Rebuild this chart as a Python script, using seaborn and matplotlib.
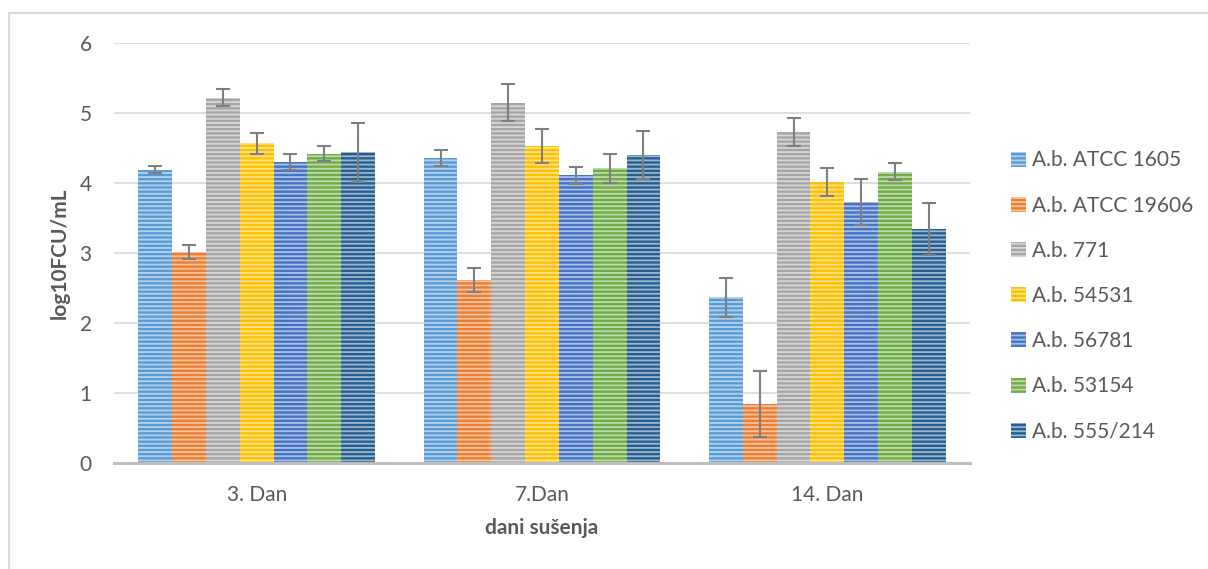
import numpy as np
import pandas as pd
import matplotlib
matplotlib.use("Agg")
import matplotlib.pyplot as plt
import seaborn as sns
from matplotlib.patches import Rectangle

days = ["3. Dan", "7.Dan", "14. Dan"]
strains = ["A.b. ATCC 1605", "A.b. ATCC 19606", "A.b. 771", "A.b. 54531",
           "A.b. 56781", "A.b. 53154", "A.b. 555/214"]

mean_1605 = [4.19, 4.36, 2.37]
mean_19606 = [3.02, 2.62, 0.84]
mean_771 = [5.22, 5.15, 4.73]
mean_54531 = [4.57, 4.53, 4.02]
mean_56781 = [4.30, 4.11, 3.73]
mean_53154 = [4.42, 4.21, 4.16]
mean_555 = [4.44, 4.40, 3.34]

sd_1605 = [0.05, 0.11, 0.28]
sd_19606 = [0.10, 0.17, 0.47]
sd_771 = [0.12, 0.27, 0.20]
sd_54531 = [0.15, 0.24, 0.20]
sd_56781 = [0.12, 0.12, 0.33]
sd_53154 = [0.11, 0.21, 0.12]
sd_555 = [0.42, 0.35, 0.37]

colors = ["#5B9BD5", "#ED7D31", "#A5A5A5", "#FFC000", "#4472C4", "#70AD47", "#255E91"]

means = [mean_1605, mean_19606, mean_771, mean_54531, mean_56781, mean_53154, mean_555]
sds = [sd_1605, sd_19606, sd_771, sd_54531, sd_56781, sd_53154, sd_555]

rows = []
for s, m in zip(strains, means):
    for d, v in zip(days, m):
        rows.append({"day": d, "strain": s, "value": v})
df = pd.DataFrame(rows)

sns.set_theme(style="white")
plt.rcParams["font.family"] = ["Lato", "DejaVu Sans"]
plt.rcParams["hatch.linewidth"] = 1.3
plt.rcParams["hatch.color"] = (1, 1, 1, 0.55)

W, H = 1208, 569
TXT = "#595959"
FS = 15
fig = plt.figure(figsize=(W / 100, H / 100), dpi=100)
ax = fig.add_axes([114 / W, 1 - 463 / H, (970 - 114) / W, (463 - 43) / H])

sns.barplot(data=df, x="day", y="value", hue="strain", order=days, hue_order=strains,
            palette=colors, width=0.83, errorbar=None, ax=ax, saturation=1,
            edgecolor=(1, 1, 1, 0.55), linewidth=0, legend=True)

for cont, sd in zip(ax.containers, sds):
    for bar, e in zip(cont.patches, sd):
        bar.set_hatch("----")
        x = bar.get_x() + bar.get_width() / 2
        ax.errorbar(x, bar.get_height(), yerr=e, color="#7f7f7f", lw=1.5,
                    capsize=5, capthick=1.5, zorder=5)

ax.set_ylim(0, 6)
ax.set_xlim(-0.5, 2.5)
ax.set_yticks(range(7))
ax.yaxis.grid(True, color="#d9d9d9", lw=1.2)
ax.set_axisbelow(True)
for sp in ["top", "right", "left"]:
    ax.spines[sp].set_visible(False)
ax.spines["bottom"].set_color("#bfbfbf")
ax.spines["bottom"].set_linewidth(2.2)
ax.tick_params(axis="both", length=0, labelsize=FS, colors=TXT)
ax.tick_params(axis="y", pad=16)
ax.tick_params(axis="x", pad=15.5)
ax.set_xlabel("dani sušenja", fontsize=FS, fontweight="bold", color=TXT)
ax.set_ylabel("log10FCU/mL", fontsize=FS, fontweight="bold", color=TXT)
ax.xaxis.set_label_coords(0.5, (463 - 518) / 420)
ax.yaxis.set_label_coords((70 - 114) / 856, 0.5)

handles, labels = ax.get_legend_handles_labels()
for h in handles:
    h.set_hatch("----")
leg = ax.legend(handles, labels, loc="center left", bbox_to_anchor=(1011 / W, 1 - 296 / H),
                bbox_transform=fig.transFigure, frameon=False, fontsize=FS,
                borderaxespad=0, borderpad=0,
                handlelength=0.73, handleheight=0.73, handletextpad=0.27, labelspacing=1.21)
for t in leg.get_texts():
    t.set_color(TXT)

fig.patches.append(Rectangle((9 / W, -0.1), 1.2, 1 - 13 / H + 0.1, transform=fig.transFigure,
                             fill=False, edgecolor="#d9d9d9", lw=1.5))

fig.savefig("out.png", dpi=100)
